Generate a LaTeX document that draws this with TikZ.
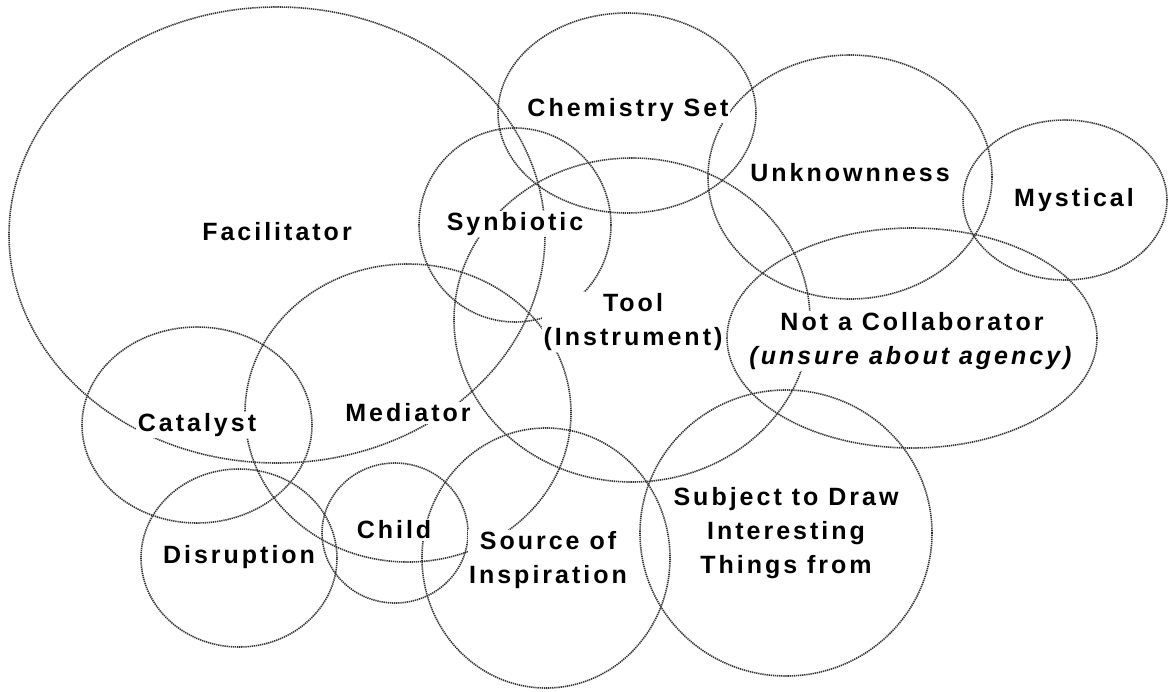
\documentclass[tikz,border=0pt]{standalone}
\usepackage{fontspec}
\newfontfamily\labelfamily[LetterSpace=12]{Liberation Sans}
\newcommand\labelfont{\labelfamily\bfseries\fontsize{25}{34}\selectfont}
\begin{document}
\begin{tikzpicture}[x=1pt, y=-1pt,
  ring/.style={draw=black!80, line width=1.6pt, dash pattern=on 1.3pt off 0.8pt},
  lbl/.style={fill=white, inner sep=1.5pt, font=\labelfont, align=center}]
  \useasboundingbox (0,0) rectangle (1169,691);

  % overlapping regions
  \draw[ring] (277,235) ellipse [x radius=268pt, y radius=228pt];  % Facilitator
  \draw[ring] (627,113) ellipse [x radius=129pt, y radius=100pt];  % Chemistry Set
  \draw[ring] (850,177) ellipse [x radius=142pt, y radius=122pt];  % Unknownness
  \draw[ring] (1065,200) ellipse [x radius=102pt, y radius=80pt];  % Mystical
  \draw[ring] (515,225) ellipse [x radius=96pt, y radius=97pt];    % Synbiotic
  \draw[ring] (632,320) ellipse [x radius=178pt, y radius=162pt];  % Tool
  \draw[ring] (912,338) ellipse [x radius=185pt, y radius=110pt];  % Not a Collaborator
  \draw[ring] (408,413) ellipse [x radius=163pt, y radius=149pt];  % Mediator
  \draw[ring] (197,425) ellipse [x radius=115pt, y radius=98pt];   % Catalyst
  \draw[ring] (239,558) ellipse [x radius=98pt, y radius=89pt];    % Disruption
  \draw[ring] (395,533) ellipse [x radius=73pt, y radius=70pt];    % Child
  \draw[ring] (546,558) ellipse [x radius=124pt, y radius=130pt];  % Source of Inspiration
  \draw[ring] (786,533) ellipse [x radius=146pt, y radius=143pt];  % Subject to Draw

  % labels
  \node[lbl] (facilitator) at (277,232) {Facilitator};
  \node[lbl] (synbiotic) at (515,224) {Synbiotic};
  \node[lbl] (chemistry) at (628,110) {Chemistry Set};
  \node[lbl] (unknown) at (850,173) {Unknownness};
  \node[lbl] (mystical) at (1074,200) {Mystical};
  \node[lbl] (tool) at (633,322) {Tool\\(Instrument)};
  \node[lbl] (notcollab) at (912,341) {Not a Collaborator\\\textit{(unsure about agency)}};
  \node[lbl] (mediator) at (408,413) {Mediator};
  \node[lbl] (catalyst) at (197,425) {Catalyst};
  \node[lbl] (disruption) at (239,557) {Disruption};
  \node[lbl] (child) at (394,530) {Child};
  \node[lbl] (source) at (548,560) {Source of\\Inspiration};
  \node[lbl] (subject) at (786,533) {Subject to Draw\\Interesting\\Things from};
\end{tikzpicture}
\end{document}
